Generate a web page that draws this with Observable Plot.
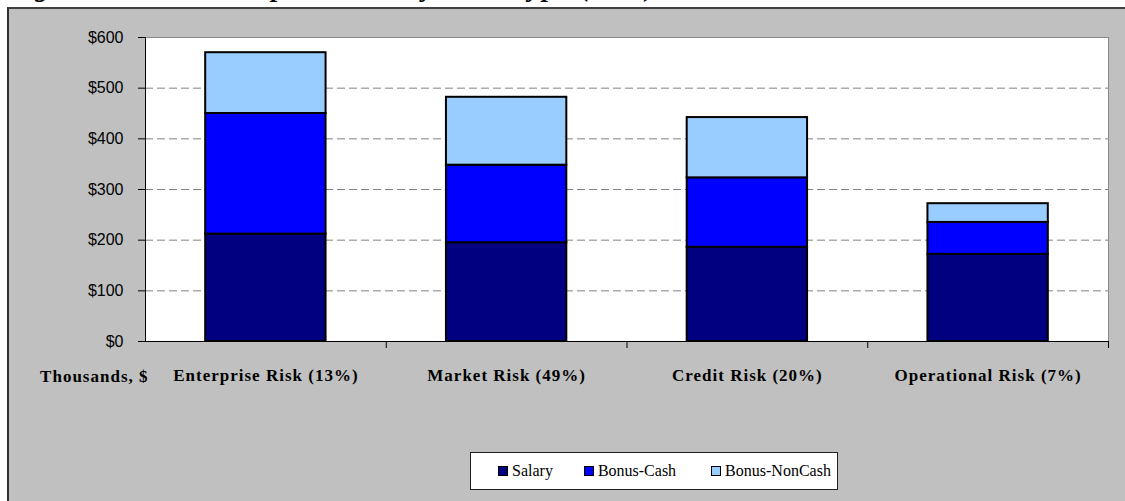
<!DOCTYPE html>
<html>
<head>
<meta charset="utf-8">
<script src="https://cdn.jsdelivr.net/npm/d3@7"></script>
<script src="https://cdn.jsdelivr.net/npm/@observablehq/plot@0.6"></script>
<style>
  html, body { margin: 0; padding: 0; background: #ffffff; }
  body { position: relative; width: 1125px; height: 501px; overflow: hidden; }
  #title { position: absolute; left: 6px; top: -28px; font: bold italic 27px "Liberation Serif", serif; letter-spacing: 2px; white-space: nowrap; color: #000; z-index: 0; }
  #panel { position: absolute; left: 7px; top: 7px; width: 1130px; height: 510px; background: #c0c0c0; border-left: 2px solid #303030; border-top: 2px solid #404040; z-index: 1; }
  #chart { position: absolute; left: 0; top: 0; z-index: 2; }
  #chart g[aria-label="x-axis tick label"] text, #chart g[aria-label="text"] text { letter-spacing: 1px; }
  #legend { position: absolute; left: 470px; top: 452px; width: 368px; height: 38px; box-sizing: border-box; border: 1px solid #202020; background: #fff; display: flex; align-items: center; padding-left: 27px; font: 16px "Liberation Serif", serif; color: #000; z-index: 2; }
  .item { display: flex; align-items: center; }
  .item:nth-child(2) { margin-left: 31px; }
  .item:nth-child(3) { margin-left: 35px; }
  .sw { width: 8px; height: 8px; border: 1px solid #000; margin-right: 4px; }
</style>
</head>
<body>
<div id="title">Figure 8: Total Compensation by Risk Type (US$)</div>
<div id="panel"></div>
<div id="chart"></div>
<div id="legend"></div>
<script>
const categories = ["Enterprise Risk (13%)", "Market Risk (49%)", "Credit Risk (20%)", "Operational Risk (7%)"];
const series = ["Salary", "Bonus-Cash", "Bonus-NonCash"];
const salary = [212, 195, 186, 172];
const bonusCash = [238, 153, 137, 63];
const bonusNonCash = [120, 134, 119, 37];
const colors = ["#000080", "#0000ff", "#99ccff"];
const yTicks = [0, 100, 200, 300, 400, 500, 600];
const gridTicks = [100, 200, 300, 400, 500];
const yLabel = "Thousands, $";

const seriesValues = [salary, bonusCash, bonusNonCash];
const data = [];
categories.forEach((c, i) => {
  series.forEach((s, j) => data.push({category: c, series: s, value: seriesValues[j][i]}));
});

const W = 1125, H = 400, mL = 145, mR = 17, mT = 37, mB = 59;
const half = (W - mL - mR) / categories.length / 2;
const serif = "Liberation Serif, Times New Roman, serif";

const chart = Plot.plot({
  width: W, height: H,
  marginLeft: mL, marginRight: mR, marginTop: mT, marginBottom: mB,
  style: {background: "transparent", color: "black", overflow: "visible"},
  x: {domain: categories, padding: 0, round: false, label: null},
  y: {domain: [0, 600], label: null},
  color: {domain: series, range: colors},
  marks: [
    Plot.frame({fill: "white", stroke: "#8a8a8a"}),
    Plot.ruleY(gridTicks, {stroke: "#808080", strokeDasharray: "8,4"}),
    Plot.barY(data, {x: "category", y: "value", fill: "series", stroke: "black", strokeWidth: 2, insetLeft: half / 2, insetRight: half / 2}),
    Plot.ruleY([0], {stroke: "black"}),
    Plot.ruleX([categories[0]], {dx: -half, y1: 0, y2: 600, stroke: "black"}),
    Plot.ruleX(categories, {x: d => d, dx: half, y1: 0, y2: 0, insetBottom: -7, stroke: "black"}),
    Plot.axisY(yTicks, {tickFormat: d => "$" + d, tickSize: 7, tickPadding: 15, fontSize: 16, fontFamily: "Liberation Sans, Arial, sans-serif", stroke: "black", label: null}),
    Plot.axisX({tickSize: 0, tickPadding: 27, fontSize: 17, fontWeight: "bold", fontFamily: serif, label: null}),
    Plot.text([yLabel], {text: d => d, frameAnchor: "bottom-left", textAnchor: "end", dx: 3, dy: 40, fontSize: 17, fontWeight: "bold", fontFamily: serif})
  ]
});
document.getElementById("chart").appendChild(chart);

const legend = document.getElementById("legend");
series.forEach((s, j) => {
  const item = document.createElement("div");
  item.className = "item";
  const sw = document.createElement("div");
  sw.className = "sw";
  sw.style.background = colors[j];
  const t = document.createElement("span");
  t.textContent = s;
  item.appendChild(sw);
  item.appendChild(t);
  legend.appendChild(item);
});
</script>
</body>
</html>
